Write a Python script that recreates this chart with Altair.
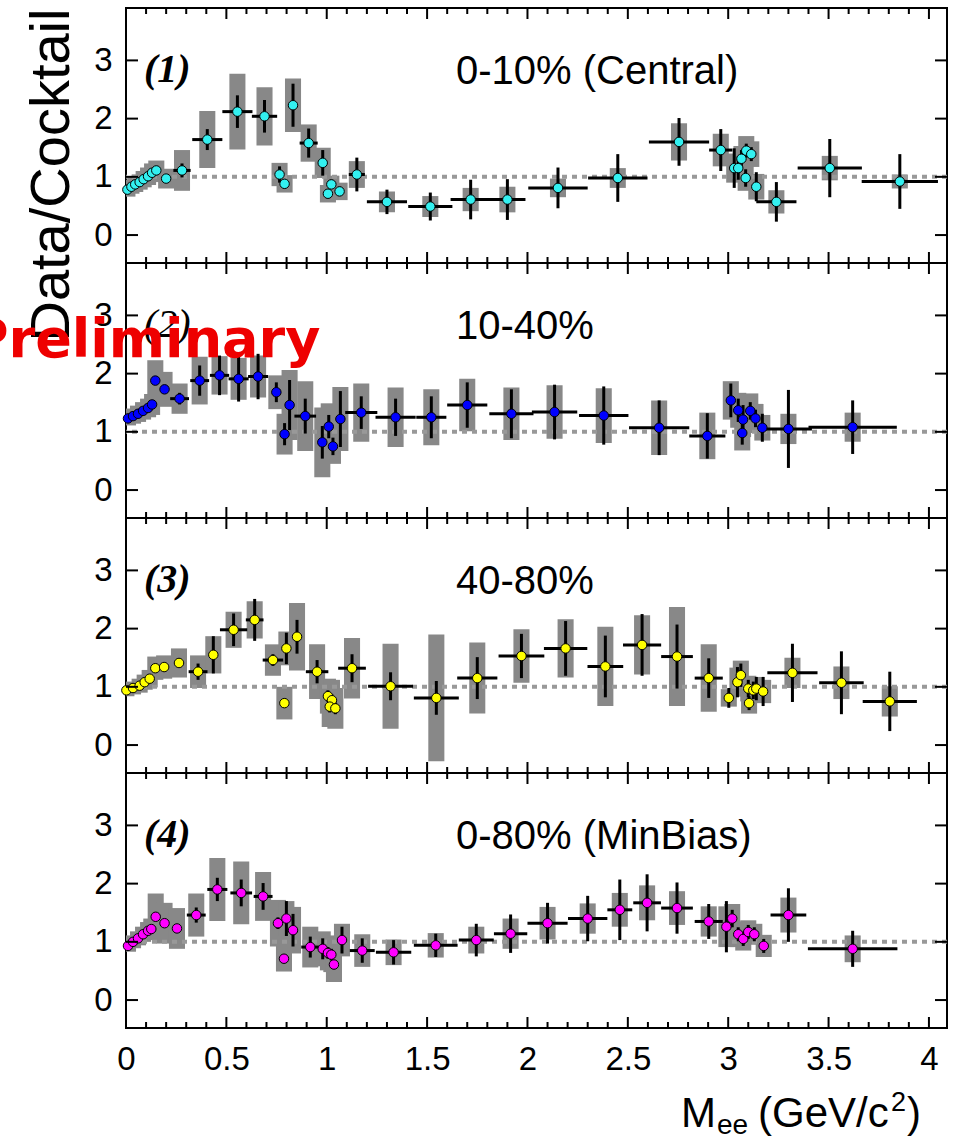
import altair as alt
import pandas as pd

# ---------------- axis ranges, ticks and labels ----------------
X_DOMAIN = [0.0, 4.09]
Y_DOMAIN = [-0.48, 3.9]
MAJOR_X = [0.0, 0.5, 1.0, 1.5, 2.0, 2.5, 3.0, 3.5, 4.0]
MINOR_X = [round(0.1 * k, 1) for k in range(41) if k % 5]
Y_TICKS = [0, 1, 2, 3]

CENTRALITY = ["0-10% (Central)", "10-40%", "40-80%", "0-80% (MinBias)"]
PANEL_TAGS = ["(1)", "(2)", "(3)", "(4)"]
MARKER_FILL = ["#33F0F0", "#0000FF", "#FFFF00", "#FF00FF"]
WATERMARK = ["Preliminary"]
Y_TITLE = "Data/Cocktail"

# ---------------- (1) 0-10% ----------------
mass_1 = [0.007, 0.027, 0.046, 0.068, 0.088, 0.110, 0.130, 0.151, 0.200, 0.279,
          0.405, 0.555, 0.690, 0.765, 0.790, 0.832, 0.910, 0.980, 1.006, 1.023,
          1.064, 1.150, 1.300, 1.516, 1.717, 1.900, 2.152, 2.450, 2.755, 2.963,
          3.030, 3.050, 3.066, 3.087, 3.090, 3.115, 3.140, 3.240, 3.506, 3.855]
ratio_1 = [0.78, 0.83, 0.87, 0.91, 0.96, 1.01, 1.07, 1.11, 0.97, 1.11,
           1.64, 2.12, 2.04, 1.04, 0.88, 2.23, 1.58, 1.24, 0.71, 0.87,
           0.75, 1.04, 0.57, 0.49, 0.61, 0.61, 0.81, 0.98, 1.60, 1.46,
           1.15, 1.15, 1.31, 0.98, 1.45, 1.39, 0.83, 0.57, 1.15, 0.92]
stat_1 = [0.04, 0.04, 0.04, 0.04, 0.04, 0.05, 0.05, 0.05, 0.06, 0.12,
          0.18, 0.28, 0.28, 0.14, 0.08, 0.37, 0.25, 0.22, 0.08, 0.08,
          0.08, 0.29, 0.21, 0.24, 0.34, 0.35, 0.35, 0.41, 0.41, 0.36,
          0.34, 0.20, 0.15, 0.15, 0.12, 0.12, 0.25, 0.34, 0.50, 0.47]
syst_1 = [0.12, 0.12, 0.13, 0.13, 0.14, 0.15, 0.16, 0.17, 0.17, 0.35,
          0.49, 0.65, 0.50, 0.20, 0.15, 0.46, 0.32, 0.26, 0.15, 0.15,
          0.15, 0.23, 0.18, 0.18, 0.20, 0.22, 0.16, 0.17, 0.32, 0.28,
          0.25, 0.22, 0.22, 0.22, 0.25, 0.22, 0.22, 0.20, 0.21, 0.12]
bin_1 = [0.005, 0.005, 0.005, 0.005, 0.005, 0.005, 0.005, 0.005, 0.010, 0.043,
         0.075, 0.075, 0.063, 0.010, 0.010, 0.010, 0.045, 0.010, 0.010, 0.010,
         0.010, 0.040, 0.100, 0.110, 0.100, 0.090, 0.148, 0.148, 0.150, 0.058,
         0.010, 0.010, 0.010, 0.010, 0.010, 0.010, 0.010, 0.100, 0.160, 0.190]

# ---------------- (2) 10-40% ----------------
mass_2 = [0.010, 0.035, 0.060, 0.085, 0.110, 0.130, 0.146, 0.192, 0.267, 0.367,
          0.466, 0.561, 0.658, 0.749, 0.790, 0.815, 0.893, 0.978, 1.010, 1.031,
          1.068, 1.172, 1.343, 1.521, 1.700, 1.920, 2.135, 2.380, 2.656, 2.896,
          3.013, 3.050, 3.070, 3.074, 3.110, 3.136, 3.170, 3.300, 3.620]
ratio_2 = [1.23, 1.27, 1.31, 1.36, 1.41, 1.47, 1.88, 1.73, 1.57, 1.88,
           1.97, 1.91, 1.95, 1.68, 0.96, 1.46, 1.27, 0.82, 1.09, 0.75,
           1.22, 1.33, 1.25, 1.25, 1.46, 1.31, 1.34, 1.28, 1.07, 0.93,
           1.54, 1.37, 0.98, 1.21, 1.36, 1.23, 1.07, 1.05, 1.08]
stat_2 = [0.04, 0.04, 0.04, 0.04, 0.04, 0.05, 0.07, 0.07, 0.10, 0.26,
          0.34, 0.39, 0.39, 0.17, 0.19, 0.43, 0.30, 0.28, 0.20, 0.15,
          0.48, 0.28, 0.32, 0.36, 0.39, 0.42, 0.47, 0.50, 0.47, 0.39,
          0.29, 0.20, 0.20, 0.25, 0.15, 0.15, 0.24, 0.67, 0.46]
syst_2 = [0.12, 0.13, 0.14, 0.15, 0.16, 0.18, 0.35, 0.30, 0.26, 0.41,
          0.33, 0.36, 0.36, 0.29, 0.35, 0.60, 0.60, 0.60, 0.40, 0.30,
          0.55, 0.50, 0.51, 0.48, 0.45, 0.45, 0.46, 0.47, 0.47, 0.40,
          0.33, 0.30, 0.30, 0.30, 0.30, 0.25, 0.22, 0.26, 0.25]
bin_2 = [0.005, 0.005, 0.005, 0.005, 0.005, 0.005, 0.010, 0.010, 0.047, 0.047,
         0.048, 0.050, 0.050, 0.020, 0.010, 0.010, 0.054, 0.010, 0.010, 0.010,
         0.010, 0.080, 0.100, 0.075, 0.100, 0.110, 0.113, 0.123, 0.150, 0.090,
         0.010, 0.010, 0.010, 0.010, 0.010, 0.010, 0.010, 0.117, 0.220]

# ---------------- (3) 40-80% ----------------
mass_3 = [0.002, 0.035, 0.068, 0.093, 0.118, 0.146, 0.190, 0.264, 0.359, 0.435,
          0.536, 0.641, 0.732, 0.789, 0.799, 0.852, 0.952, 1.006, 1.026, 1.015,
          1.043, 1.126, 1.318, 1.546, 1.750, 1.970, 2.190, 2.388, 2.571, 2.745,
          2.903, 3.003, 3.046, 3.063, 3.100, 3.104, 3.125, 3.140, 3.174, 3.320,
          3.564, 3.805]
ratio_3 = [0.94, 0.98, 1.02, 1.08, 1.14, 1.32, 1.34, 1.41, 1.26, 1.55,
           1.98, 2.15, 1.46, 0.72, 1.66, 1.86, 1.26, 0.84, 0.77, 0.66,
           0.63, 1.32, 1.01, 0.81, 1.15, 1.53, 1.66, 1.35, 1.72, 1.52,
           1.15, 0.81, 1.08, 1.20, 0.97, 0.72, 0.94, 0.97, 0.92, 1.24,
           1.07, 0.75]
stat_3 = [0.04, 0.04, 0.04, 0.05, 0.05, 0.06, 0.06, 0.07, 0.14, 0.32,
          0.28, 0.36, 0.10, 0.08, 0.27, 0.29, 0.20, 0.10, 0.10, 0.10,
          0.10, 0.24, 0.24, 0.29, 0.36, 0.38, 0.47, 0.53, 0.53, 0.55,
          0.34, 0.17, 0.26, 0.20, 0.15, 0.12, 0.15, 0.20, 0.25, 0.50,
          0.54, 0.51]
syst_3 = [0.10, 0.11, 0.12, 0.13, 0.15, 0.20, 0.20, 0.25, 0.28, 0.32,
          0.31, 0.32, 0.27, 0.28, 0.29, 0.58, 0.47, 0.30, 0.35, 0.35,
          0.35, 0.52, 0.73, 1.09, 0.61, 0.46, 0.50, 0.68, 0.51, 0.85,
          0.58, 0.15, 0.25, 0.25, 0.22, 0.18, 0.20, 0.20, 0.20, 0.26,
          0.28, 0.26]
bin_3 = [0.005, 0.005, 0.005, 0.005, 0.005, 0.010, 0.010, 0.020, 0.047, 0.010,
         0.068, 0.044, 0.051, 0.010, 0.010, 0.010, 0.056, 0.010, 0.010, 0.010,
         0.010, 0.069, 0.112, 0.112, 0.100, 0.114, 0.108, 0.089, 0.095, 0.079,
         0.070, 0.010, 0.010, 0.010, 0.010, 0.010, 0.010, 0.010, 0.010, 0.125,
         0.111, 0.135]

# ---------------- (4) 0-80% ----------------
mass_4 = [0.010, 0.035, 0.060, 0.085, 0.110, 0.126, 0.148, 0.192, 0.254, 0.350,
          0.455, 0.574, 0.683, 0.757, 0.787, 0.799, 0.832, 0.918, 0.980, 1.006,
          1.023, 1.036, 1.076, 1.177, 1.333, 1.543, 1.745, 1.916, 2.100, 2.300,
          2.460, 2.596, 2.745, 2.903, 2.991, 3.020, 3.050, 3.075, 3.100, 3.130,
          3.177, 3.300, 3.620]
ratio_4 = [0.93, 1.00, 1.06, 1.13, 1.19, 1.22, 1.43, 1.32, 1.23, 1.46,
           1.90, 1.84, 1.78, 1.32, 0.71, 1.40, 1.20, 0.91, 0.88, 0.81,
           0.78, 0.61, 1.03, 0.85, 0.82, 0.94, 1.03, 1.14, 1.32, 1.40,
           1.55, 1.67, 1.58, 1.35, 1.26, 1.40, 1.13, 1.05, 1.17, 1.13,
           0.93, 1.46, 0.88]
stat_4 = [0.03, 0.03, 0.03, 0.04, 0.04, 0.04, 0.06, 0.06, 0.07, 0.13,
          0.20, 0.23, 0.23, 0.10, 0.06, 0.30, 0.28, 0.18, 0.18, 0.10,
          0.10, 0.08, 0.23, 0.21, 0.21, 0.20, 0.28, 0.33, 0.35, 0.39,
          0.52, 0.49, 0.44, 0.30, 0.44, 0.15, 0.12, 0.12, 0.12, 0.12,
          0.12, 0.46, 0.31]
syst_4 = [0.10, 0.11, 0.12, 0.13, 0.15, 0.18, 0.40, 0.35, 0.35, 0.37,
          0.54, 0.54, 0.42, 0.40, 0.22, 0.30, 0.40, 0.35, 0.30, 0.30,
          0.30, 0.30, 0.28, 0.28, 0.22, 0.21, 0.23, 0.26, 0.28, 0.26,
          0.29, 0.30, 0.29, 0.26, 0.35, 0.25, 0.22, 0.20, 0.20, 0.18,
          0.19, 0.30, 0.23]
bin_4 = [0.005, 0.005, 0.005, 0.005, 0.005, 0.005, 0.005, 0.010, 0.010, 0.047,
         0.050, 0.054, 0.047, 0.010, 0.010, 0.010, 0.010, 0.045, 0.010, 0.010,
         0.010, 0.010, 0.010, 0.062, 0.088, 0.109, 0.087, 0.083, 0.100, 0.098,
         0.062, 0.069, 0.079, 0.070, 0.010, 0.010, 0.010, 0.010, 0.010, 0.010,
         0.010, 0.089, 0.223]

PANELS = [
    (mass_1, ratio_1, stat_1, syst_1, bin_1),
    (mass_2, ratio_2, stat_2, syst_2, bin_2),
    (mass_3, ratio_3, stat_3, syst_3, bin_3),
    (mass_4, ratio_4, stat_4, syst_4, bin_4),
]

# ---------------- styling ----------------
W, H = 821, 255
BOX_HALF = 0.04          # half width of the systematic boxes (GeV/c^2)
FONT = "Liberation Sans"
BOX_GRAY = "#888888"
XS = alt.Scale(domain=X_DOMAIN, nice=False, zero=False)
YS = alt.Scale(domain=Y_DOMAIN, nice=False, zero=False)

# x-axis title pieces: (text, x, baseline, size) in bottom-panel pixels
X_TITLE_PARTS = [("M", 555, 354, 42), ("ee", 591, 361, 28),
                 ("(GeV/c", 632, 354, 42), ("2", 765, 338, 27),
                 (")", 781, 354, 42)]


def text_layer(txt, x, y, size, **kw):
    props = dict(align="left", baseline="alphabetic", fontSize=size,
                 font=FONT, color="black")
    props.update(kw)
    return alt.Chart(pd.DataFrame({"t": [txt]})).mark_text(**props).encode(
        x=alt.value(x), y=alt.value(y), text="t:N")


def make_panel(k):
    mass, ratio, stat, syst, half = PANELS[k]
    df = pd.DataFrame({"mass": mass, "ratio": ratio, "stat": stat,
                       "syst": syst, "half": half})
    df["bin_lo"] = df["mass"] - df["half"]
    df["bin_hi"] = df["mass"] + df["half"]
    df["stat_lo"] = df["ratio"] - df["stat"]
    df["stat_hi"] = df["ratio"] + df["stat"]
    df["box_lo"] = df["mass"] - BOX_HALF
    df["box_hi"] = df["mass"] + BOX_HALF
    df["syst_lo"] = df["ratio"] - df["syst"]
    df["syst_hi"] = df["ratio"] + df["syst"]

    last = k == 3
    if last:
        x_axis = alt.Axis(values=MAJOR_X, format="~g", labelFontSize=33,
                          labelFont=FONT, labelColor="black", labelPadding=15,
                          labelFlush=False, labelOverlap=False, ticks=False,
                          domain=False, grid=False, title=None)
    else:
        x_axis = None
    y_kw = dict(values=Y_TICKS, labelFontSize=33, labelFont=FONT,
                labelColor="black", labelPadding=14, ticks=False,
                domain=False, grid=False)
    if k == 0:
        y_axis = alt.Axis(title=Y_TITLE, titleFontSize=56, titleFont=FONT,
                          titleFontWeight="normal", titleColor="black",
                          titleAngle=270, titleAlign="right",
                          titleBaseline="alphabetic", titleX=-58, titleY=0,
                          **y_kw)
    else:
        y_axis = alt.Axis(title=None, **y_kw)

    def X(field):
        return alt.X(field, type="quantitative", scale=XS, axis=x_axis)

    def Y(field):
        return alt.Y(field, type="quantitative", scale=YS, axis=y_axis)

    base = alt.Chart(df)

    boxes = base.mark_rect(color=BOX_GRAY, clip=True).encode(
        x=X("box_lo"), x2="box_hi:Q", y=Y("syst_lo"), y2="syst_hi:Q")
    unity = alt.Chart(pd.DataFrame({"one": [1.0]})).mark_rule(
        color="#999999", strokeWidth=4, strokeDash=[5, 5]
    ).encode(y=Y("one"))
    stat_bars = base.mark_rule(color="black", strokeWidth=3).encode(
        x=X("mass"), y=Y("stat_lo"), y2="stat_hi:Q")
    bin_bars = base.mark_rule(color="black", strokeWidth=3).encode(
        x=X("bin_lo"), x2="bin_hi:Q", y=Y("ratio"))
    points = base.mark_point(shape="circle", filled=True, size=90,
                             fill=MARKER_FILL[k], stroke="black",
                             strokeWidth=1, opacity=1).encode(
        x=X("mass"), y=Y("ratio"))

    # inward frame ticks
    maj = alt.Chart(pd.DataFrame({"t": MAJOR_X}))
    mnr = alt.Chart(pd.DataFrame({"t": MINOR_X}))
    yt = alt.Chart(pd.DataFrame({"t": Y_TICKS}))
    tick_style = dict(color="black", strokeWidth=2)
    ticks = [
        maj.mark_rule(**tick_style).encode(x=X("t"), y=alt.value(H),
                                           y2=alt.value(H - 11)),
        maj.mark_rule(**tick_style).encode(x=X("t"), y=alt.value(0),
                                           y2=alt.value(11)),
        mnr.mark_rule(**tick_style).encode(x=X("t"), y=alt.value(H),
                                           y2=alt.value(H - 6)),
        mnr.mark_rule(**tick_style).encode(x=X("t"), y=alt.value(0),
                                           y2=alt.value(6)),
        yt.mark_rule(**tick_style).encode(y=Y("t"), x=alt.value(0),
                                          x2=alt.value(12)),
        yt.mark_rule(**tick_style).encode(y=Y("t"), x=alt.value(W),
                                          x2=alt.value(W - 12)),
    ]

    texts = [
        text_layer(CENTRALITY[k], 330, 76, 40),
        text_layer(PANEL_TAGS[k], 18, 74, 40, font="Liberation Serif",
                   fontStyle="italic",
                   fontWeight="normal" if k == 1 else "bold"),
    ]
    if k == 1:
        texts.append(text_layer(WATERMARK[0], -157, 94, 54, font="DejaVu Sans",
                                fontWeight="bold", color="#EE0000"))
    if last:
        for txt, px, py, size in X_TITLE_PARTS:
            texts.append(text_layer(txt, px, py, size))

    layers = [boxes, unity, stat_bars, bin_bars, points] + ticks + texts
    return alt.layer(*layers).properties(width=W, height=H)


chart = alt.vconcat(*[make_panel(k) for k in range(4)], spacing=0,
                    bounds="flush").properties(
    padding={"left": -32, "top": 6, "right": 5, "bottom": 0}
).configure_view(stroke="black", strokeWidth=2)

chart.save("out.html", embed_options={"renderer": "svg", "actions": False})
